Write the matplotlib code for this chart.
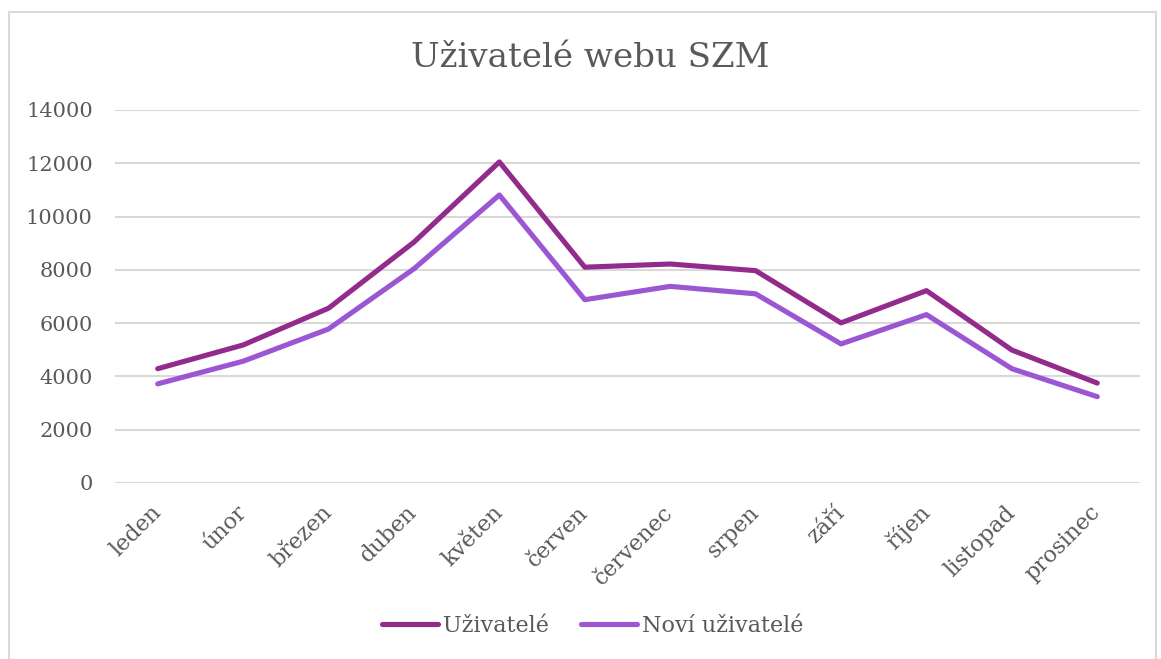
import matplotlib
matplotlib.use("Agg")
import matplotlib.pyplot as plt
from matplotlib.patches import Rectangle

months = ["leden", "únor", "březen", "duben", "květen", "červen",
          "červenec", "srpen", "září", "říjen", "listopad", "prosinec"]
uzivatele = [4290, 5180, 6560, 9040, 12050, 8100, 8220, 7970, 6010, 7220, 4990, 3750]
novi = [3720, 4570, 5780, 8040, 10810, 6880, 7380, 7100, 5220, 6320, 4290, 3240]
yticks = [0, 2000, 4000, 6000, 8000, 10000, 12000, 14000]

FONT = "DejaVu Serif"
TXT = "#595959"

W, H = 1161, 659
fig = plt.figure(figsize=(W / 100, H / 100), dpi=100)
fig.patch.set_facecolor("white")

# outer chart border
fig.patches.append(Rectangle((8.5 / W, -0.01), (1156 - 8.5) / W, 1 - 12 / H + 0.01,
                             transform=fig.transFigure, fill=False,
                             edgecolor="#D9D9D9", linewidth=1.5))

ax = fig.add_axes([115 / W, 1 - 483 / H, (1140 - 115) / W, (483 - 110) / H])
x = list(range(len(months)))
ax.plot(x, uzivatele, color="#922B8C", linewidth=3.7, solid_capstyle="round",
        solid_joinstyle="round", label="Uživatelé", zorder=3)
ax.plot(x, novi, color="#9B57D3", linewidth=3.7, solid_capstyle="round",
        solid_joinstyle="round", label="Noví uživatelé", zorder=3)

ax.set_xlim(-0.5, len(months) - 0.5)
ax.set_ylim(0, 14000)
ax.set_yticks(yticks)
ax.set_yticklabels([str(v) for v in yticks], fontfamily=FONT, fontsize=15, color=TXT)
ax.set_xticks(x)
ax.set_xticklabels(months, fontfamily=FONT, fontsize=16, color=TXT, rotation=45,
                   ha="right", va="center", rotation_mode="anchor")
ax.tick_params(axis="both", length=0)
ax.tick_params(axis="y", pad=16)
ax.tick_params(axis="x", pad=19)
ax.grid(axis="y", color="#D9D9D9", linewidth=1.5)
ax.set_axisbelow(True)
for s in ax.spines.values():
    s.set_visible(False)

fig.text(590 / W, 1 - 58 / H, "Uživatelé webu SZM", ha="center", va="center",
         fontfamily=FONT, fontsize=24.5, color=TXT)

leg = fig.legend(loc="center", bbox_to_anchor=(593 / W, 1 - 626 / H), ncol=2,
                 frameon=False, prop={"family": FONT, "size": 16},
                 handlelength=2.5, handletextpad=0.25, columnspacing=1.45)
for t in leg.get_texts():
    t.set_color(TXT)

fig.savefig("out.png", dpi=100)
